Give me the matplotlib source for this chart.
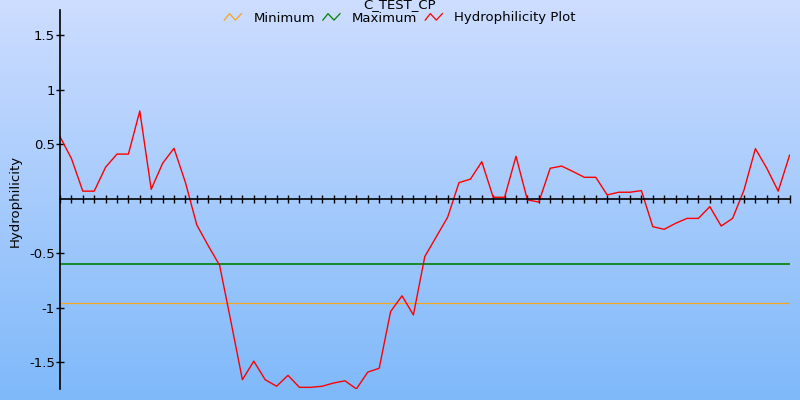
import numpy as np
import matplotlib.pyplot as plt
from matplotlib.legend_handler import HandlerBase
from matplotlib.lines import Line2D

# data
hydro = [0.57, 0.37, 0.07, 0.07, 0.29, 0.41, 0.41, 0.805, 0.087, 0.325,
         0.463, 0.15, -0.24, -0.43, -0.61, -1.13, -1.66, -1.49, -1.66, -1.72,
         -1.62, -1.73, -1.73, -1.72, -1.69, -1.67, -1.745, -1.59, -1.555, -1.035,
         -0.89, -1.066, -0.53, -0.35, -0.17, 0.148, 0.18, 0.34, 0.014, 0.014,
         0.39, -0.01, -0.03, 0.28, 0.30, 0.25, 0.197, 0.197, 0.035, 0.06,
         0.06, 0.075, -0.256, -0.28, -0.225, -0.18, -0.18, -0.072, -0.25, -0.18,
         0.08, 0.46, 0.28, 0.07, 0.40]
minimum = -0.96
maximum = -0.60
ytick_vals = [1.5, 1, 0.5, -0.5, -1, -1.5]
ytick_labels = ['1.5', '1', '0.5', '-0.5', '-1', '-1.5']

x = np.arange(len(hydro))


class ZigzagHandler(HandlerBase):
    # little zigzag icon like the original legend
    def create_artists(self, legend, orig_handle, xdescent, ydescent,
                       width, height, fontsize, trans):
        xs = np.array([0.0, 0.3, 0.65, 1.0]) * width - xdescent
        ys = np.array([0.15, 0.85, 0.15, 0.85]) * height - ydescent
        ln = Line2D(xs, ys, color=orig_handle.get_color(), lw=0.9)
        ln.set_transform(trans)
        return [ln]


fig = plt.figure(figsize=(8, 4), dpi=100)

# background gradient
bg = fig.add_axes([0, 0, 1, 1], zorder=-1)
top = np.array([205, 221, 255]) / 255
bot = np.array([127, 185, 250]) / 255
t = np.linspace(0, 1, 256)[:, None]
grad = top[None, :] * (1 - t) + bot[None, :] * t
bg.imshow(grad[:, None, :], aspect='auto', extent=[0, 1, 0, 1])
bg.axis('off')

ax = fig.add_axes([60 / 800, 10.7 / 400, 729.6 / 800, 379.3 / 400])
ax.patch.set_alpha(0)

l_min = ax.axhline(minimum, color='#f5a623', lw=0.9, label='Minimum')
l_max = ax.axhline(maximum, color='#008000', lw=1.2, label='Maximum')
l_hyd, = ax.plot(x, hydro, color='red', lw=1, label='Hydrophilicity Plot')

ax.set_xlim(0, len(hydro) - 1)
ax.set_ylim(-1.748, 1.732)

ax.spines['top'].set_visible(False)
ax.spines['right'].set_visible(False)
ax.spines['bottom'].set_position(('data', 0))
ax.spines['left'].set_linewidth(1.2)
ax.spines['bottom'].set_linewidth(1.2)

ax.set_xticks(x)
ax.set_xticklabels([])
ax.tick_params(axis='x', direction='inout', length=5.5, width=1)
ax.set_yticks(ytick_vals)
ax.set_yticklabels(ytick_labels)
ax.tick_params(axis='y', direction='inout', length=5.5, width=1, pad=1,
               labelsize=9.5)

fig.text(0.5, 1 - 5 / 400, 'C_TEST_CP', ha='center', va='center', fontsize=9.5)
fig.text(15 / 800, 1 - 201 / 400, 'Hydrophilicity', rotation=90,
         ha='center', va='center', fontsize=9.5)

hmap = {h: ZigzagHandler() for h in (l_min, l_max, l_hyd)}
fig.legend(handles=[l_min, l_max, l_hyd], handler_map=hmap, ncol=3,
           loc='center', bbox_to_anchor=(0.5, 1 - 18 / 400), frameon=False,
           fontsize=9.5, handlelength=1.3, handletextpad=0.9,
           columnspacing=0.6, borderpad=0)

fig.savefig('out.png', dpi=100)
